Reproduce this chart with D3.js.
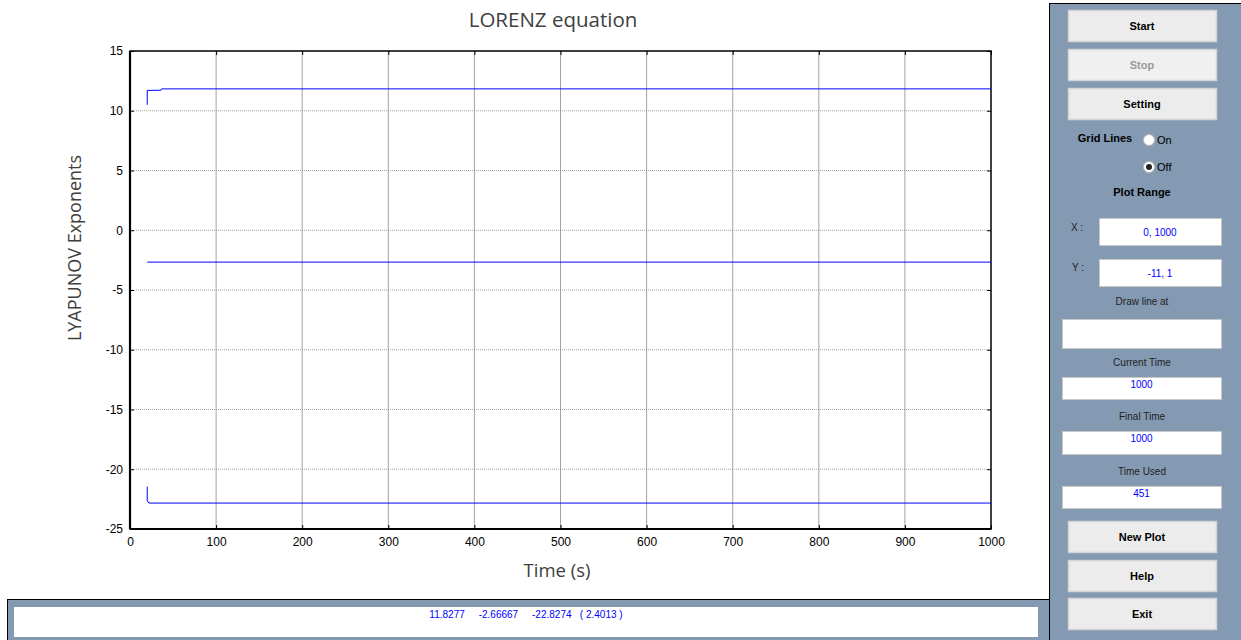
<!DOCTYPE html>
<html lang="en">
<head>
<meta charset="utf-8">
<title>LORENZ equation</title>
<script src="https://d3js.org/d3.v7.min.js"></script>
<style>
	body { margin: 0; background: #fff; }
	svg { display: block; }
	.tick text { font-family: "Liberation Sans", Arial, sans-serif; font-size: 12px; fill: #000; }
	.ui { font-family: "Liberation Sans", Arial, sans-serif; font-size: 11px; }
</style>
</head>
<body>
<svg id="fig" width="1241" height="640"></svg>
<script type="text/javascript">

	// data
	var times1 = [20, 20, 36, 37, 1000];
	var lyap1  = [10.5, 11.7, 11.72, 11.83, 11.83];
	var times2 = [20, 1000];
	var lyap2  = [-2.667, -2.667];
	var times3 = [20, 20, 22, 1000];
	var lyap3  = [-21.46, -22.64, -22.83, -22.83];
	var xTicks = [0, 100, 200, 300, 400, 500, 600, 700, 800, 900, 1000];
	var yTicks = [-25, -20, -15, -10, -5, 0, 5, 10, 15];

	var svg = d3.select("#fig");
	var plotL = 130, plotR = 991, plotT = 51, plotB = 529;

	var x = d3.scaleLinear().domain([0, 1000]).range([plotL, plotR]);
	var y = d3.scaleLinear().domain([-25, 15]).range([plotB, plotT]);

	// grid
	svg.append("g").selectAll("line")
		.data(xTicks.slice(1, -1))
		.enter().append("line")
		.attr("x1", function(d) { return x(d); }).attr("x2", function(d) { return x(d); })
		.attr("y1", plotT).attr("y2", plotB)
		.attr("stroke", "#8c8c8c").attr("stroke-width", 0.8);
	svg.append("g").selectAll("line")
		.data(yTicks.slice(1, -1))
		.enter().append("line")
		.attr("x1", plotL).attr("x2", plotR)
		.attr("y1", function(d) { return y(d); }).attr("y2", function(d) { return y(d); })
		.attr("stroke", "#8c8c8c").attr("stroke-width", 0.8).attr("stroke-dasharray", "1,1");

	// axes, ticks inward (plain hyphen for negatives, like the original)
	var fmt = function(d) { return String(d); };
	svg.append("g").attr("transform", "translate(0," + plotB + ")")
		.call(d3.axisBottom(x).tickValues(xTicks).tickFormat(fmt).tickSizeInner(-4).tickSizeOuter(0).tickPadding(8))
		.call(function(g) { g.select(".domain").remove(); });
	svg.append("g").attr("transform", "translate(" + plotL + ",0)")
		.call(d3.axisLeft(y).tickValues(yTicks).tickFormat(fmt).tickSizeInner(-4).tickSizeOuter(0).tickPadding(7))
		.call(function(g) { g.select(".domain").remove(); });
	svg.append("g").attr("transform", "translate(0," + plotT + ")")
		.call(d3.axisTop(x).tickValues(xTicks).tickSizeInner(-4).tickSizeOuter(0).tickFormat(""))
		.call(function(g) { g.select(".domain").remove(); });
	svg.append("g").attr("transform", "translate(" + plotR + ",0)")
		.call(d3.axisRight(y).tickValues(yTicks).tickSizeInner(-4).tickSizeOuter(0).tickFormat(""))
		.call(function(g) { g.select(".domain").remove(); });
	svg.selectAll(".tick line").attr("stroke", "#000");

	svg.append("rect")
		.attr("x", plotL).attr("y", plotT)
		.attr("width", plotR - plotL).attr("height", plotB - plotT)
		.attr("fill", "none").attr("stroke", "#000").attr("stroke-width", 1.5);
	svg.append("line").attr("x1", plotL).attr("x2", plotL).attr("y1", plotT).attr("y2", plotB)
		.attr("stroke", "#000").attr("stroke-width", 2.2);
	svg.append("line").attr("x1", plotL).attr("x2", plotR).attr("y1", plotB).attr("y2", plotB)
		.attr("stroke", "#000").attr("stroke-width", 2);

	// lines
	var series = [[times1, lyap1], [times2, lyap2], [times3, lyap3]];
	var line = d3.line()
		.x(function(d) { return x(d[0]); })
		.y(function(d) { return y(d[1]); });
	series.forEach(function(s) {
		svg.append("path")
			.datum(d3.zip(s[0], s[1]))
			.attr("d", line)
			.attr("fill", "none").attr("stroke", "#0000ff").attr("stroke-width", 1);
	});

	// titles
	svg.append("text").attr("x", 553).attr("y", 27).attr("text-anchor", "middle")
		.style("font-family", "'Open Sans', sans-serif").style("font-size", "20.5px").attr("fill", "#404040")
		.text("LORENZ equation");
	svg.append("text").attr("x", 557).attr("y", 577).attr("text-anchor", "middle")
		.style("font-family", "'Open Sans', sans-serif").style("font-size", "18.5px").attr("fill", "#404040")
		.text("Time (s)");
	svg.append("text").attr("transform", "translate(81,248) rotate(-90)").attr("text-anchor", "middle")
		.style("font-family", "'Open Sans', sans-serif").style("font-size", "18px").attr("fill", "#404040")
		.text("LYAPUNOV Exponents");

	// bottom status panel
	var panel = "#8499b2";
	svg.append("rect").attr("x", 7.5).attr("y", 599.5).attr("width", 1045).attr("height", 45)
		.attr("fill", panel).attr("stroke", "#000");
	svg.append("rect").attr("x", 14).attr("y", 607).attr("width", 1024).attr("height", 30).attr("fill", "#fff");
	svg.append("text").attr("class", "ui").attr("x", 526).attr("y", 618).attr("text-anchor", "middle")
		.attr("fill", "#0000ff").style("font-size", "10px").style("white-space", "pre")
		.text("11.8277     -2.66667     -22.8274   ( 2.4013 )");

	// right control panel
	svg.append("rect").attr("x", 1049.5).attr("y", 3.5).attr("width", 200).attr("height", 645)
		.attr("fill", panel).attr("stroke", "#000");

	var buttons = [["Start", 10, "#000"], ["Stop", 49, "#999"], ["Setting", 88, "#000"],
		["New Plot", 521, "#000"], ["Help", 560, "#000"], ["Exit", 598, "#000"]];
	buttons.forEach(function(b) {
		svg.append("rect").attr("x", 1068.5).attr("y", b[1] + 0.5).attr("width", 148).attr("height", 31)
			.attr("fill", b[2] === "#999" ? "#f0f0f0" : "#ececec").attr("stroke", "#d4d4d4").attr("stroke-width", 1.5);
		svg.append("text").attr("class", "ui").attr("x", 1142).attr("y", b[1] + 20)
			.attr("text-anchor", "middle").style("font-weight", "bold").attr("fill", b[2]).text(b[0]);
	});

	svg.append("text").attr("class", "ui").attr("x", 1105).attr("y", 142).attr("text-anchor", "middle")
		.style("font-weight", "bold").text("Grid Lines");
	[[140, "On", false], [167, "Off", true]].forEach(function(r) {
		svg.append("circle").attr("cx", 1149).attr("cy", r[0]).attr("r", 5.5).attr("fill", "#fff").attr("stroke", "#bbb");
		if (r[2]) svg.append("circle").attr("cx", 1149).attr("cy", r[0]).attr("r", 3).attr("fill", "#222");
		svg.append("text").attr("class", "ui").attr("x", 1157).attr("y", r[0] + 4).text(r[1]);
	});
	svg.append("text").attr("class", "ui").attr("x", 1142).attr("y", 196).attr("text-anchor", "middle")
		.style("font-weight", "bold").text("Plot Range");

	var boxes = [[1099, 218, 122, 27, "0, 1000"], [1099, 259, 122, 27, "-11, 1"], [1062, 319, 159, 29, ""],
		[1062, 377, 159, 22, "1000"], [1062, 431, 159, 23, "1000"], [1062, 486, 159, 22, "451"]];
	boxes.forEach(function(b) {
		svg.append("rect").attr("x", b[0] + 0.5).attr("y", b[1] + 0.5).attr("width", b[2]).attr("height", b[3])
			.attr("fill", "#fff").attr("stroke", "#c8c8c8");
		svg.append("text").attr("class", "ui").attr("x", b[0] + b[2] / 2).attr("y", b[3] > 24 ? b[1] + b[3] / 2 + 4 : b[1] + 11)
			.attr("text-anchor", "middle").attr("fill", "#0000ff").style("font-size", "10px").text(b[4]);
	});

	var labels = [[1077, 231, "X :"], [1078, 271, "Y :"], [1142, 305, "Draw line at"],
		[1142, 366, "Current Time"], [1142, 420, "Final Time"], [1142, 475, "Time Used"]];
	labels.forEach(function(l) {
		svg.append("text").attr("class", "ui").attr("x", l[0]).attr("y", l[1]).attr("text-anchor", "middle")
			.style("font-size", "10px").attr("fill", "#222").text(l[2]);
	});
</script>
</body>
</html>
